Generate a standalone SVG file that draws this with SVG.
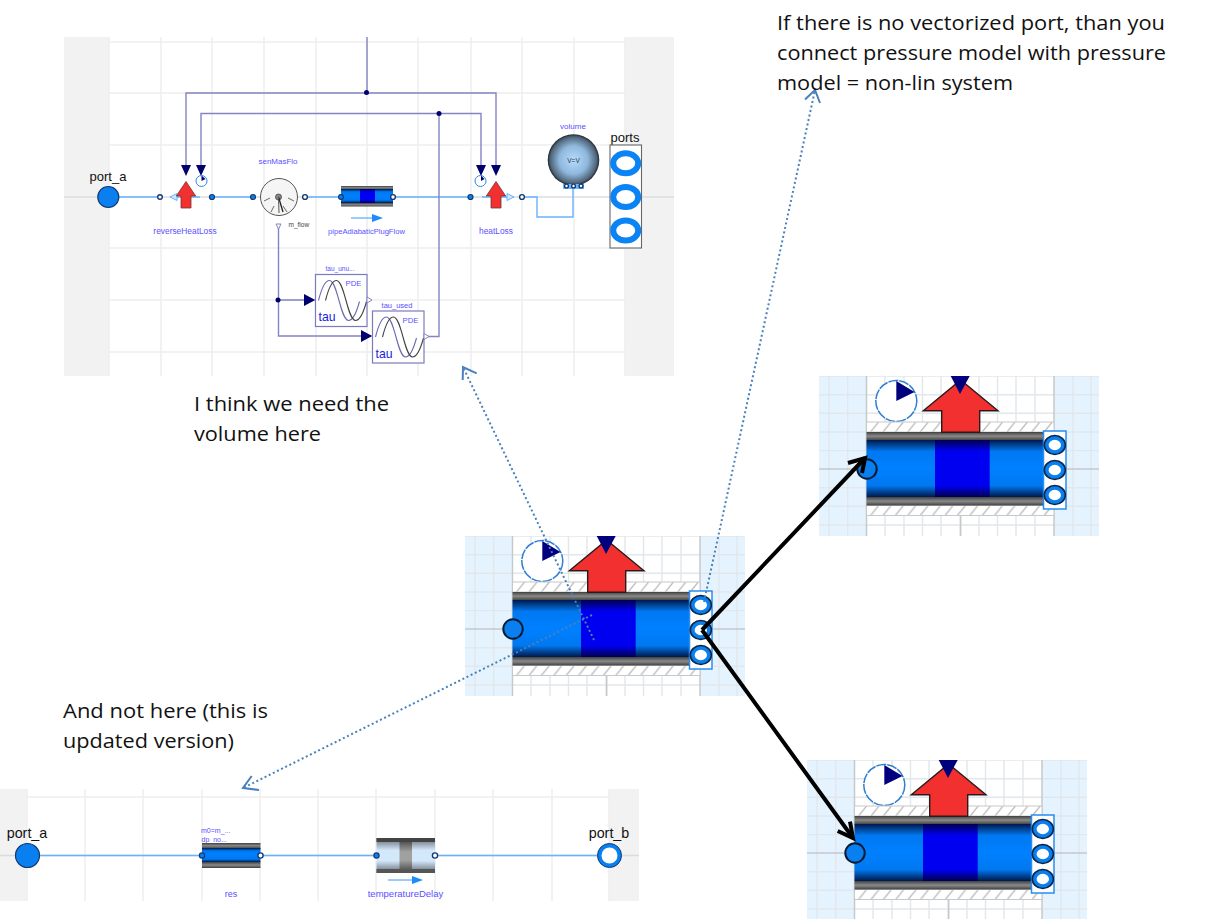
<svg xmlns="http://www.w3.org/2000/svg" xmlns:xlink="http://www.w3.org/1999/xlink" width="1229" height="919" viewBox="0 0 1229 919">
<style>
.note{font-family:"Open Sans","Noto Sans",sans-serif;font-size:20.4px;fill:#111}
.lbl{font-family:"Liberation Sans",Arial,sans-serif;fill:#5a50ff}
.blk{font-family:"Liberation Sans",Arial,sans-serif;fill:#111;font-size:13px;text-anchor:middle}
.blk2{font-family:"Liberation Sans",Arial,sans-serif;fill:#111;font-size:14.3px;text-anchor:middle}
.tau{font-family:"Liberation Sans",Arial,sans-serif;fill:#1a1ae0;font-size:12.2px}
.g{stroke:#eeeeee;stroke-width:1.5;fill:none}
.flow{stroke:#68b2ff;stroke-width:1.4;fill:none}
.sig{stroke:#8484c4;stroke-width:1.4;fill:none}
.dot{fill:#00006e}
.tri{fill:#00006e}
.pf{fill:#0a7ff0;stroke:#123a70;stroke-width:1.2}
.po{fill:#fff;stroke:#123a70;stroke-width:1.4}
.dotted{stroke:#4a80bd;stroke-width:2;stroke-dasharray:2 2.6;fill:none}
.headb{stroke:#4a80bd;stroke-width:2;fill:none}
.thick{stroke:#000;stroke-width:4;fill:none}
.fg{stroke:#e2e7eb;stroke-width:1.4;fill:none}
</style>
<defs>
<linearGradient id="bl" x1="0" y1="0" x2="0" y2="1"><stop offset="0" stop-color="#00184a"/><stop offset=".2" stop-color="#0078f0"/><stop offset=".5" stop-color="#0080ff"/><stop offset=".8" stop-color="#0078f0"/><stop offset="1" stop-color="#00184a"/></linearGradient>
<linearGradient id="db" x1="0" y1="0" x2="0" y2="1"><stop offset="0" stop-color="#000050"/><stop offset=".2" stop-color="#0000f0"/><stop offset=".8" stop-color="#0000f0"/><stop offset="1" stop-color="#000050"/></linearGradient>
<linearGradient id="gr" x1="0" y1="0" x2="0" y2="1"><stop offset="0" stop-color="#404040"/><stop offset=".5" stop-color="#8a8a8a"/><stop offset="1" stop-color="#404040"/></linearGradient>
<linearGradient id="lt" x1="0" y1="0" x2="0" y2="1"><stop offset="0" stop-color="#606870"/><stop offset=".35" stop-color="#d4e8fb"/><stop offset=".65" stop-color="#d4e8fb"/><stop offset="1" stop-color="#606870"/></linearGradient>
<linearGradient id="lg" x1="0" y1="0" x2="0" y2="1"><stop offset="0" stop-color="#555"/><stop offset=".35" stop-color="#a0a0a0"/><stop offset=".65" stop-color="#a0a0a0"/><stop offset="1" stop-color="#555"/></linearGradient>
<radialGradient id="vol"><stop offset="0" stop-color="#b5dcff"/><stop offset=".55" stop-color="#8fb8dc"/><stop offset=".9" stop-color="#4f6478"/><stop offset="1" stop-color="#20262c"/></radialGradient>
<pattern id="hatch" width="12.4" height="10" patternUnits="userSpaceOnUse" y="46"><rect width="12.4" height="10" fill="#fff"/><path d="M2 10L10 0" stroke="#bdbdbd" stroke-width="1.3"/></pattern>
<pattern id="hatch2" width="12.4" height="10" patternUnits="userSpaceOnUse" y="129.5"><rect width="12.4" height="10" fill="#fff"/><path d="M2 10L10 0" stroke="#bdbdbd" stroke-width="1.3"/></pattern>
<clipPath id="pc"><rect width="280" height="160"/></clipPath>
<g id="pipePanel" clip-path="url(#pc)">
<rect width="280" height="160" fill="#fff"/>
<rect width="47.5" height="160" fill="#e5f3ff"/>
<rect x="235" width="45" height="160" fill="#e5f3ff"/>
<path class="fg" d="M0 0H280M0 18.7H280M0 37.3H280M0 56H280M0 74.6H280M0 111.7H280M0 130.3H280M0 149H280M10 0V160M28.7 0V160M66 0V160M85 0V160M103.5 0V160M122 0V160M141 0V160M160 0V160M178.5 0V160M197 0V160M216 0V160M254 0V160M272 0V160"/>
<path d="M0 93H280" stroke="#c4c8cc" stroke-width="1.4"/>
<path d="M47.5 0V160M235 0V160M141.7 140V160" stroke="#c6c9cc" stroke-width="1.5"/>
<circle cx="77.3" cy="25" r="20.5" fill="#fff" stroke="#2f7fd6" stroke-width="1.5" stroke-dasharray="10 1"/>
<path d="M77.3 25V5L95.5 16Z" fill="#00007e"/>
<rect x="47.5" y="46" width="187.5" height="10" fill="url(#hatch)" stroke="#c8c8c8"/>
<rect x="47.5" y="129.5" width="187.5" height="10" fill="url(#hatch2)" stroke="#c8c8c8"/>
<rect x="47.5" y="56" width="178" height="8.3" fill="url(#gr)"/>
<rect x="47.5" y="121" width="178" height="8.5" fill="url(#gr)"/>
<rect x="47.5" y="64" width="178" height="57" fill="url(#bl)"/>
<rect x="116" y="64" width="54.7" height="57" fill="url(#db)"/>
<path d="M141.7 4L179 34.7H160.7V56.3H122.7V34.7H104.3Z" fill="#f23030" stroke="#2a1a1a" stroke-width="1.4"/>
<path d="M131.7 0H150.7L141 18Z" fill="#00007e"/>
<rect x="224.5" y="55" width="22.5" height="78" fill="#fff" stroke="#2a8cf0" stroke-width="1.5"/>
<g fill="#fff" stroke="#0a7ff0" stroke-width="4"><ellipse cx="235.8" cy="69" rx="8.2" ry="7.2"/><ellipse cx="235.8" cy="94" rx="8.2" ry="7.2"/><ellipse cx="235.8" cy="119" rx="8.2" ry="7.2"/></g>
<g fill="none" stroke="#0a2548" stroke-width="1.6"><ellipse cx="235.8" cy="69" rx="10.5" ry="9.5"/><ellipse cx="235.8" cy="94" rx="10.5" ry="9.5"/><ellipse cx="235.8" cy="119" rx="10.5" ry="9.5"/></g>
<circle cx="48" cy="93" r="9.7" fill="#0a7ff0" stroke="#0a1a30" stroke-width="2"/>
</g>
<g id="wave"><path d="M3 26C6 14 10 6 14 6C22 6 25 46 33 46C37 46 41 38 44 27" fill="none" stroke="#6a6ab0" stroke-width="1.1"/><path d="M10 26C13 14 17 6 21 6C29 6 32 46 40 46C44 46 48 38 51 27" fill="none" stroke="#444" stroke-width="1.1"/></g>
</defs>

<g id="panel-top">
<rect x="64" y="37" width="610" height="339" fill="#fff"/>
<rect x="64" y="37" width="45" height="339" fill="#f2f2f2"/>
<rect x="625" y="37" width="49" height="339" fill="#f2f2f2"/>
<path class="g" d="M109 42H625M109 93H625M109 145H625M109 248H625M109 300H625M109 352H625M109 37V376M161 37V376M212 37V376M264 37V376M316 37V376M367 37V376M418 37V376M471 37V376M522 37V376M574 37V376M625 37V376"/>
<path d="M64 197H674" stroke="#dcdcdc" stroke-width="1.3"/>
</g>

<g id="panel-bottom">
<rect x="0" y="789" width="639" height="112" fill="#fff"/>
<rect x="0" y="789" width="27" height="112" fill="#f2f2f2"/>
<rect x="609" y="789" width="30" height="112" fill="#f2f2f2"/>
<path class="g" d="M27 797H609M27 789V901M85 789V901M143 789V901M202 789V901M260 789V901M318 789V901M376 789V901M435 789V901M493 789V901M552 789V901M609 789V901"/>
<path d="M0 855.5H639" stroke="#dcdcdc" stroke-width="1.3"/>
</g>

<g id="connectors">
<g class="flow-wires">
<path class="flow" d="M108 197H160M177 197H200M212 197H253M305 197H341M393 197H471M482 197H507M522 197H537V217H573V187"/>
<path class="flow" d="M27 855.5H609"/>
</g>
<g class="signal-wires">
<path class="sig" d="M367 37V93M186 166V93H496V166M201 166V113.5H481V166M439 113.5V336.5H424M278.5 228V336H361M278.5 300H304"/>
</g>
<path class="tri" d="M181 165H191L186 176ZM196 165H206L201 176ZM476 165H486L481 176ZM491 165H501L496 176ZM304 294L315.3 300L304 306ZM361 330L372.3 336L361 342Z"/>
<circle class="dot" cx="366.5" cy="92.5" r="2.5"/>
<circle class="dot" cx="439" cy="113.5" r="2.5"/>
<circle class="dot" cx="278" cy="300" r="2.5"/>
</g>

<g id="port_a"><text class="blk" x="108" y="181">port_a</text><circle class="pf" cx="108.3" cy="197" r="10.5"/></g>

<g id="reverseHeatLoss">
<circle cx="201.5" cy="181" r="5.5" fill="#fff" stroke="#2f8ae6" stroke-width="1"/>
<path d="M201.5 181V175.5L205.5 179Z" fill="#00007e"/>
<path d="M170 197L177 193.5V200.5Z" fill="#cfe6ff" stroke="#68b2ff"/>
<path d="M186 181.5L195.7 196H191V208H181V196H176.3Z" fill="#f23030" stroke="#7a3030" stroke-width=".8"/>
<circle class="po" cx="160" cy="197" r="2.3"/>
<circle class="pf" cx="212" cy="197" r="2.5"/>
<text class="lbl" font-size="8.4" x="185" y="234" text-anchor="middle">reverseHeatLoss</text>
</g>

<g id="senMasFlo">
<text class="lbl" font-size="8" x="278" y="164" text-anchor="middle">senMasFlo</text>
<circle cx="279" cy="197" r="18.5" fill="#f5f5f5" stroke="#555" stroke-width="1"/>
<path d="M264 201L270 198M271 212L274 206M287 212L283 206M294 201L288 198" stroke="#444" stroke-width=".8"/>
<circle cx="278.5" cy="197" r="3" fill="#888" stroke="#444" stroke-width=".8"/>
<path d="M278.5 197L283 212" stroke="#222" stroke-width="1.3"/>
<path d="M278.5 197L279 213" stroke="#555" stroke-width="1"/>
<circle class="pf" cx="253" cy="197" r="2.5"/>
<circle class="po" cx="305" cy="197" r="2.4"/>
<path d="M276 224H281L278.5 229Z" fill="#fff" stroke="#8484c4"/>
<text font-family="Liberation Sans, Arial, sans-serif" font-size="6.5" fill="#444" x="288.5" y="226.5">m_flow</text>
</g>

<g id="pipeAdiabaticPlugFlow">
<rect x="341" y="186" width="52" height="3.5" fill="url(#gr)"/>
<rect x="341" y="203" width="52" height="3.5" fill="url(#gr)"/>
<rect x="341" y="189" width="52" height="14" fill="url(#bl)"/>
<rect x="360" y="189" width="15" height="14" fill="url(#db)"/>
<circle class="pf" cx="341" cy="197" r="2.4"/>
<circle class="po" cx="393" cy="197" r="2.4"/>
<path d="M351 218H372" stroke="#3a96ff" stroke-width="1"/>
<path d="M372 214L383 218L372 222Z" fill="#1a8cff"/>
<text class="lbl" font-size="7.6" x="366.5" y="234" text-anchor="middle">pipeAdiabaticPlugFlow</text>
</g>

<g id="heatLoss">
<circle cx="480.5" cy="181" r="5.5" fill="#fff" stroke="#2f8ae6" stroke-width="1"/>
<path d="M481 181V175.5L484.5 179Z" fill="#00007e"/>
<path d="M507 193.5L514 197L507 200.5Z" fill="#cfe6ff" stroke="#68b2ff"/>
<path d="M496 181.5L505.7 196H501V208H491V196H486.3Z" fill="#f23030" stroke="#7a3030" stroke-width=".8"/>
<circle class="pf" cx="470.5" cy="197" r="2.5"/>
<circle class="po" cx="522" cy="197" r="2.4"/>
<text class="lbl" font-size="8.4" x="496" y="234" text-anchor="middle">heatLoss</text>
</g>

<g id="volume">
<text class="lbl" font-size="8" x="573" y="129" text-anchor="middle">volume</text>
<circle cx="573.5" cy="160" r="25.8" fill="url(#vol)"/>
<text font-family="Liberation Sans, Arial, sans-serif" font-size="6.5" fill="#333" x="573.5" y="163" text-anchor="middle">V=V</text>
<rect x="563" y="184" width="21" height="5" fill="#6ab4ff"/>
<circle class="po" cx="566.5" cy="186" r="1.9"/><circle class="po" cx="573.5" cy="186" r="1.9"/><circle class="po" cx="581" cy="186" r="1.9"/>
</g>

<g id="ports">
<text class="blk" x="625" y="142">ports</text>
<rect x="610" y="145" width="31.5" height="103" fill="#fff" stroke="#666" stroke-width="1.1"/>
<g fill="#fff" stroke="#0a84f5" stroke-width="6"><ellipse cx="625.7" cy="163.3" rx="12.5" ry="10"/><ellipse cx="625.7" cy="197" rx="12.5" ry="10"/><ellipse cx="625.7" cy="230.5" rx="12.5" ry="10"/></g>
</g>

<g id="tau_unused">
<text class="lbl" font-size="6.5" x="340" y="271" text-anchor="middle">tau_unu...</text>
<rect x="315.5" y="274.5" width="51.5" height="52" fill="#fff" stroke="#7a7ac0" stroke-width="1.2"/>
<use xlink:href="#wave" href="#wave" x="315.5" y="274.5"/>
<text class="lbl" font-size="7.8" x="345.5" y="286">PDE</text>
<text class="tau" x="318.5" y="321">tau</text>
<path d="M367 297L372 300L367 303Z" fill="#fff" stroke="#8484c4"/>
</g>

<g id="tau_used">
<text class="lbl" font-size="7.5" x="397" y="308" text-anchor="middle">tau_used</text>
<rect x="372.5" y="311" width="51.5" height="52" fill="#fff" stroke="#7a7ac0" stroke-width="1.2"/>
<use xlink:href="#wave" href="#wave" x="372.5" y="311"/>
<text class="lbl" font-size="7.8" x="402.5" y="322.5">PDE</text>
<text class="tau" x="375.5" y="357.5">tau</text>
<path d="M424 333.5L429 336.5L424 339.5Z" fill="#fff" stroke="#8484c4"/>
</g>

<g id="bottom_port_a"><text class="blk2" x="27" y="838">port_a</text><circle class="pf" cx="27.5" cy="855.5" r="12"/></g>

<g id="res">
<text class="lbl" font-size="7" x="201" y="833">m0=m_...</text>
<text class="lbl" font-size="7" x="201.5" y="842">dp_no...</text>
<rect x="202" y="843" width="58.5" height="5.5" fill="url(#gr)"/>
<rect x="202" y="862" width="58.5" height="6" fill="url(#gr)"/>
<rect x="202" y="848" width="58.5" height="14" fill="url(#bl)"/>
<circle class="pf" cx="202" cy="855.5" r="2.6"/>
<circle class="po" cx="260.5" cy="855.5" r="2.6"/>
<text class="lbl" font-size="9" x="231" y="897" text-anchor="middle">res</text>
</g>

<g id="temperatureDelay">
<rect x="376.5" y="838" width="58.5" height="35" fill="url(#lt)"/>
<rect x="376.5" y="838" width="58.5" height="4" fill="#444"/>
<rect x="376.5" y="869" width="58.5" height="4" fill="#555"/>
<rect x="399.5" y="842" width="12.5" height="28" fill="url(#lg)"/>
<circle class="pf" cx="376.5" cy="855.5" r="2.6"/>
<circle class="po" cx="435" cy="855.5" r="2.6"/>
<path d="M388 880H412" stroke="#3a96ff" stroke-width="1"/>
<path d="M412 876L423 880L412 884Z" fill="#1a8cff"/>
<text class="lbl" font-size="9.5" x="405.5" y="897" text-anchor="middle">temperatureDelay</text>
</g>

<g id="port_b"><text class="blk2" x="609" y="838">port_b</text><circle cx="609.5" cy="855.5" r="10" fill="#fff" stroke="#0a7ff0" stroke-width="4"/><circle cx="609.5" cy="855.5" r="12" fill="none" stroke="#123a70"/></g>

<use id="pipe-main" xlink:href="#pipePanel" href="#pipePanel" x="465" y="536"/>
<use id="pipe-upper" xlink:href="#pipePanel" href="#pipePanel" x="819" y="376"/>
<use id="pipe-lower" xlink:href="#pipePanel" href="#pipePanel" x="807" y="760"/>

<g id="annotation-connectors">
<path class="dotted" d="M594 640L463 367"/>
<path class="headb" d="M476.7 373.3L463 367L462.7 380"/>
<path class="dotted" d="M704 602L815 90"/>
<path class="headb" d="M805 99.5L815 90L820 103"/>
<path class="dotted" d="M592 615L243 788"/>
<path class="headb" d="M251.7 776L243 788L259 790"/>
<path class="thick" d="M702 630L865 458M702 630L853 838"/>
<path class="thick" d="M848 463L865 458L862 473M837.7 831L853 838L850 821.7"/>
</g>

<g id="notes">
<text class="note" x="777" y="30" textLength="388" lengthAdjust="spacingAndGlyphs">If there is no vectorized port, than you</text>
<text class="note" x="777" y="60" textLength="389" lengthAdjust="spacingAndGlyphs">connect pressure model with pressure</text>
<text class="note" x="777" y="90" textLength="236" lengthAdjust="spacingAndGlyphs">model = non-lin system</text>
<text class="note" x="194" y="411" textLength="195" lengthAdjust="spacingAndGlyphs">I think we need the</text>
<text class="note" x="194" y="441" textLength="127" lengthAdjust="spacingAndGlyphs">volume here</text>
<text class="note" x="63" y="718" textLength="205" lengthAdjust="spacingAndGlyphs">And not here (this is</text>
<text class="note" x="63" y="748" textLength="171" lengthAdjust="spacingAndGlyphs">updated version)</text>
</g>
</svg>
